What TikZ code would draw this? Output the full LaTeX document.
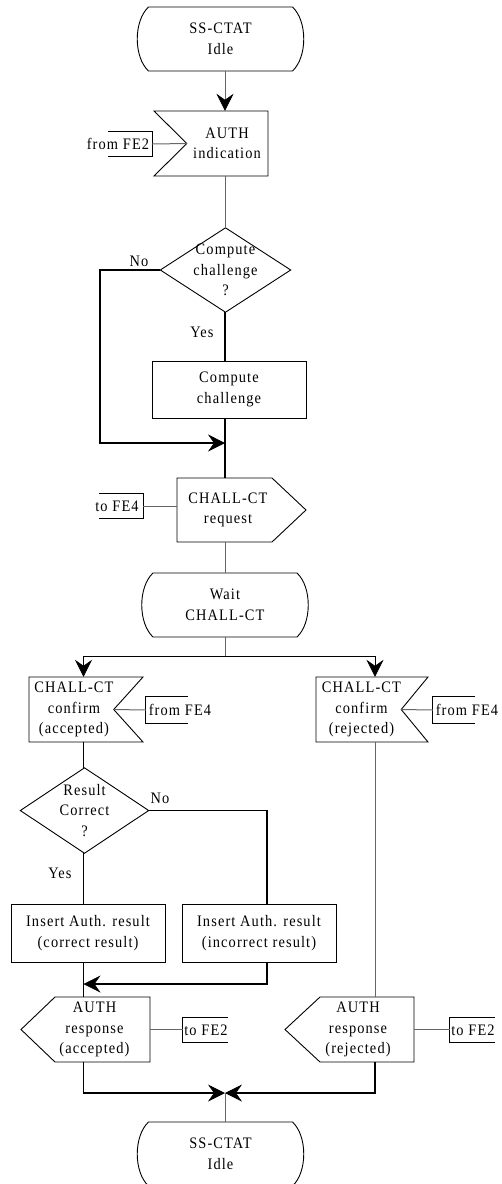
\documentclass[tikz,border=0pt]{standalone}
\usepackage{fontspec}
\setmainfont{Liberation Serif}[FakeStretch=0.9,LetterSpace=7]
\usetikzlibrary{arrows.meta}
\newcommand\lbf{\fontsize{16}{20.5}\selectfont}
\newcommand\stateoutline[3]{%
  \draw[shp] (#1-72,#2) -- (#1+72,#2) .. controls (#1+87,#2+14) and (#1+87,#3-14) .. (#1+72,#3)
    -- (#1-72,#3) .. controls (#1-87,#3-14) and (#1-87,#2+14) .. (#1-72,#2) -- cycle;}
\tikzset{
  lbl/.style={align=center,inner sep=0pt,font=\lbf},
  shp/.style={draw=black,line width=0.9pt,line join=miter},
  conn/.style={draw=black!60,line width=1pt},
  lin/.style={draw=black,line width=1pt},
  med/.style={draw=black,line width=1.3pt},
  thk/.style={draw=black,line width=1.8pt},
  arr/.style={-{Stealth[length=17pt,width=17pt,inset=6pt,color=black,line width=0.6pt]}},
}
\begin{document}
\begin{tikzpicture}[x=1pt,y=-1pt]
\useasboundingbox (0,0) rectangle (501,1184);
\clip (0,0) rectangle (501,1184);
\coordinate (col) at (225,0);
\coordinate (lcol) at (83.5,0);
\coordinate (rcol) at (375,0);
\coordinate (ncol) at (100,0);
\coordinate (ncol2) at (267,0);
\coordinate (j1) at (225,443);
\coordinate (sp) at (225,656);
\coordinate (j2) at (83.5,984);
\coordinate (mrg) at (225,1093);

% top state
\node[lbl,minimum width=166pt,minimum height=64pt] (s1) at (220.5,39) {SS-CTAT\\Idle};
\stateoutline{220.5}{7}{71}

% AUTH indication
\node[lbl,minimum width=80pt,minimum height=65pt] (a1) at (227,143.5) {AUTH\\indication};
\draw[shp] (154,111) -- (268,111) -- (268,176) -- (154,176) -- (a1.west) -- cycle;
\node[lbl,minimum width=68pt,minimum height=24pt] (fe2a) at (118,144) {from FE2};
\draw[shp] ([xshift=-44pt]fe2a.north east) -- (fe2a.north east) -- (fe2a.south east) -- ([xshift=-44pt]fe2a.south east);
\draw[conn] (fe2a.east) -- (a1.west);

% decision 1
\node[lbl,minimum width=130pt,minimum height=84pt] (d1) at (225.5,270) {Compute\\challenge\\?};
\draw[shp] (d1.north) -- (d1.east) -- (d1.south) -- (d1.west) -- cycle;
\node[lbl] (no1) at (139,261) {No};
\node[lbl] (yes1) at (202,332) {Yes};

% compute challenge
\node[lbl,shp,minimum width=154pt,minimum height=57pt] (b1) at (229,389.5) {Compute\\challenge};

% CHALL-CT request
\node[lbl,minimum width=102pt,minimum height=64pt] (o1) at (228,510) {CHALL-CT\\request};
\draw[shp] (177,478) -- (272,478) -- (306,510) -- (272,542) -- (177,542) -- cycle;
\node[lbl,minimum width=52pt,minimum height=24pt] (fe4a) at (117,506) {to FE4};
\draw[shp] ([xshift=-44pt]fe4a.north east) -- (fe4a.north east) -- (fe4a.south east) -- ([xshift=-44pt]fe4a.south east);
\draw[conn] (fe4a.east) -- (fe4a.east -| o1.west);

% wait state
\node[lbl,minimum width=166pt,minimum height=64pt] (s2) at (225,605) {Wait\\CHALL-CT};
\stateoutline{225}{573}{637}

% confirm accepted
\node[lbl,minimum width=76pt,minimum height=65pt] (i1) at (74,709.5) {CHALL-CT\\confirm\\(accepted)};
\draw[shp] (29,677) -- (143,677) -- (i1.east) -- (143,742) -- (29,742) -- cycle;
\node[lbl,minimum width=68pt,minimum height=26pt] (fe4b) at (180,710) {from FE4};
\draw[shp] ([xshift=42pt]fe4b.north west) -- (fe4b.north west) -- (fe4b.south west) -- ([xshift=42pt]fe4b.south west);
\draw[conn] (i1.east) -- (fe4b.west);

% confirm rejected
\node[lbl,minimum width=73pt,minimum height=65pt] (i2) at (361.5,709.5) {CHALL-CT\\confirm\\(rejected)};
\draw[shp] (316,677) -- (428,677) -- (i2.east) -- (428,742) -- (316,742) -- cycle;
\node[lbl,minimum width=68pt,minimum height=26pt] (fe4c) at (467,710) {from FE4};
\draw[shp] ([xshift=42pt]fe4c.north west) -- (fe4c.north west) -- (fe4c.south west) -- ([xshift=42pt]fe4c.south west);
\draw[conn] (i2.east) -- (fe4c.west);

% decision 2
\node[lbl,minimum width=128pt,minimum height=85pt] (d2) at (84.5,810.5) {Result\\Correct\\?};
\draw[shp] (d2.north) -- (d2.east) -- (d2.south) -- (d2.west) -- cycle;
\node[lbl] (no2) at (160,798) {No};
\node[lbl] (yes2) at (60,873) {Yes};

% insert results
\node[lbl,shp,minimum width=154pt,minimum height=58pt] (b2) at (88,933) {Insert Auth. result\\(correct result)};
\node[lbl,shp,minimum width=154pt,minimum height=58pt] (b3) at (259,933) {Insert Auth. result\\(incorrect result)};

% AUTH response accepted
\node[lbl,minimum width=111pt,minimum height=65pt] (o2) at (94.5,1029.5) {AUTH\\response\\(accepted)};
\draw[shp] (55,997) -- (150,997) -- (150,1062) -- (55,1062) -- (21,1029.5) -- cycle;
\node[lbl,minimum width=46pt,minimum height=24pt] (fe2b) at (206,1030) {to FE2};
\draw[shp] ([xshift=45pt]fe2b.north west) -- (fe2b.north west) -- (fe2b.south west) -- ([xshift=45pt]fe2b.south west);
\draw[conn] (o2.east) -- (o2.east -| fe2b.west);

% AUTH response rejected
\node[lbl,minimum width=112pt,minimum height=65pt] (o3) at (358,1029.5) {AUTH\\response\\(rejected)};
\draw[shp] (320,997) -- (414,997) -- (414,1062) -- (320,1062) -- (285,1029.5) -- cycle;
\node[lbl,minimum width=46pt,minimum height=24pt] (fe2c) at (473,1030) {to FE2};
\draw[shp] ([xshift=45pt]fe2c.north west) -- (fe2c.north west) -- (fe2c.south west) -- ([xshift=45pt]fe2c.south west);
\draw[conn] (o3.east) -- (o3.east -| fe2c.west);

% bottom state
\node[lbl,minimum width=166pt,minimum height=64pt] (s3) at (220.5,1154) {SS-CTAT\\Idle};
\stateoutline{220.5}{1122}{1186}

% connectors
\draw[conn,arr] (col |- s1.south) -- (col |- a1.north);
\draw[conn] (col |- a1.south) -- (col |- d1.north);
\draw[thk] (col |- d1.south) -- (col |- b1.north);
\draw[thk,arr] (d1.west) -- (ncol |- d1.west) -- (ncol |- j1) -- (j1);
\draw[thk] (col |- b1.south) -- (col |- o1.north);
\draw[conn] (col |- o1.south) -- (col |- s2.north);
\draw[conn] (col |- s2.south) -- (sp);
\draw[lin,arr] (sp) -| (lcol |- i1.north);
\draw[lin,arr] (sp) -| (rcol |- i2.north);
\draw[lin] (lcol |- i1.south) -- (lcol |- d2.north);
\draw[thk] (lcol |- d2.south) -- (lcol |- b2.north);
\draw[med] (d2.east) -| (ncol2 |- b3.north);
\draw[lin] (lcol |- b2.south) -- (lcol |- o2.north);
\draw[med,arr] (ncol2 |- b3.south) -- (ncol2 |- j2) -- (j2);
\draw[conn] (rcol |- i2.south) -- (rcol |- o3.north);
\draw[med,arr] (lcol |- o2.south) -- (lcol |- mrg) -- (mrg);
\draw[med,arr] (rcol |- o3.south) -- (rcol |- mrg) -- (mrg);
\draw[conn] (mrg) -- (col |- s3.north);
\end{tikzpicture}
\end{document}
